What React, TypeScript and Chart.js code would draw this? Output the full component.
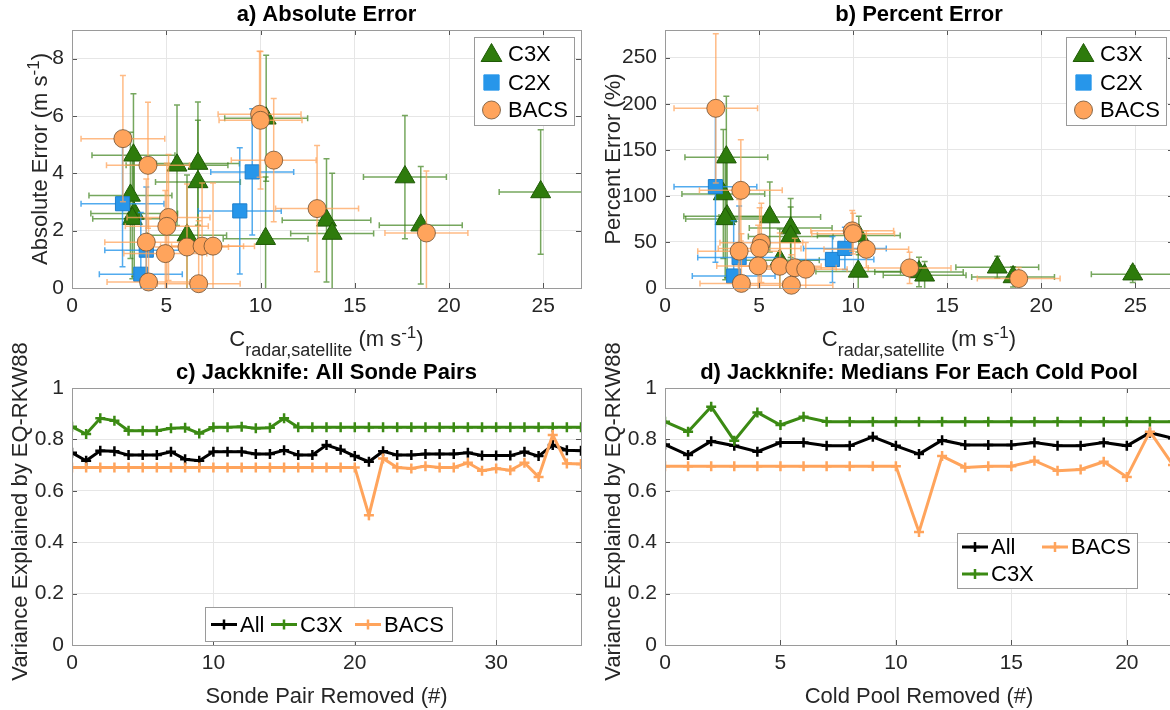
import React, { useEffect, useRef } from 'react';
import { Chart, registerables } from 'chart.js';

Chart.register(...registerables);

const FONT = "'Liberation Sans', Arial, Helvetica, sans-serif";
const TEXT = '#262626';
const GRID = '#e6e6e6';
const FRAME = '#9a9a9a';

const GREEN = '#2e7b0c';
const GREEN_EDGE = '#1f5a06';
const GREEN_LINE = '#3b8a13';
const BLUE = '#2796ea';
const ORANGE = '#ffa45c';

// ---------------- panels a & b : C3X ----------------
const c3xC = [3.26, 3.1, 3.3, 3.2, 5.57, 6.68, 6.68, 6.1, 10.27, 10.3, 13.5, 13.8, 17.66, 18.5, 24.86];
const c3xCUnc = [2.2, 2.2, 2.3, 2.1, 2.7, 2.2, 2.25, 2.1, 2.25, 2.2, 2.35, 2.2, 2.2, 2.2, 2.2];
const c3xAbs = [4.63, 3.23, 2.6, 2.42, 4.28, 4.34, 3.7, 1.84, 1.72, 5.92, 2.36, 1.9, 3.87, 2.19, 3.35];
const c3xAbsUnc = [2.15, 2.2, 2.2, 2.1, 2.1, 2.15, 2.15, 2.1, 2.15, 2.2, 2.15, 2.1, 2.15, 2.05, 2.17];
const c3xPct = [142, 102, 78, 75, 77, 65, 56, 30, 18, 57, 17.4, 13.8, 22.5, 12, 15];
const c3xPctUnc = [66, 70, 67, 66, 38, 32, 32, 34, 21, 21, 16, 15, 12, 11, 9];

// ---------------- panels a & b : C2X ----------------
const c2xC = [2.68, 3.65, 3.94, 8.9, 9.56];
const c2xCUnc = [2.2, 2.2, 2.2, 2.2, 2.2];
const c2xAbs = [2.94, 0.48, 1.32, 2.69, 4.05];
const c2xAbsUnc = [2.2, 2.15, 2.2, 2.2, 2.2];
const c2xPct = [110, 13, 33, 31, 43];
const c2xPctUnc = [82, 60, 56, 25, 23];

// ---------------- panels a & b : BACS ----------------
const bacsC = [2.7, 4.03, 3.94, 4.06, 5.12, 5.03, 4.95, 6.1, 6.9, 7.48, 6.72, 9.95, 10.0, 10.7, 13.0, 18.8];
const bacsCUnc = [2.22, 2.2, 2.2, 2.2, 2.2, 2.2, 2.2, 2.2, 2.2, 2.2, 2.2, 2.2, 2.2, 2.25, 2.2, 2.2];
const bacsAbs = [5.21, 4.28, 1.6, 0.21, 2.46, 2.15, 1.2, 1.43, 1.46, 1.46, 0.15, 6.06, 5.85, 4.46, 2.77, 1.92];
const bacsAbsUnc = [2.2, 2.2, 2.2, 2.2, 2.2, 2.2, 2.2, 2.2, 2.2, 2.2, 2.2, 2.2, 2.4, 2.15, 2.2, 2.16];
const bacsPct = [195, 106, 40, 5, 49, 43, 24, 23.6, 22, 20.4, 3, 62, 59, 42, 21.8, 10.2];
const bacsPctUnc = [81, 55, 56, 54, 43, 44, 44, 36, 32, 29, 33, 22, 22, 20, 17, 12];

// ---------------- panel c : jackknife, all sonde pairs ----------------
const sondePairRemoved = [0, 1, 2, 3, 4, 5, 6, 7, 8, 9, 10, 11, 12, 13, 14, 15, 16, 17, 18, 19, 20, 21, 22, 23, 24, 25, 26, 27, 28, 29, 30, 31, 32, 33, 34, 35, 36];
const pairsAll = [0.748, 0.717, 0.756, 0.754, 0.739, 0.739, 0.739, 0.752, 0.723, 0.717, 0.752, 0.752, 0.752, 0.743, 0.743, 0.758, 0.739, 0.739, 0.778, 0.76, 0.735, 0.713, 0.754, 0.739, 0.739, 0.743, 0.743, 0.743, 0.748, 0.737, 0.737, 0.737, 0.752, 0.735, 0.778, 0.758, 0.756];
const pairsC3X = [0.849, 0.821, 0.882, 0.873, 0.834, 0.834, 0.834, 0.843, 0.845, 0.823, 0.847, 0.847, 0.849, 0.843, 0.845, 0.882, 0.847, 0.847, 0.847, 0.847, 0.847, 0.847, 0.847, 0.847, 0.847, 0.847, 0.847, 0.847, 0.847, 0.847, 0.847, 0.847, 0.847, 0.847, 0.847, 0.847, 0.847];
const pairsBACS = [0.691, 0.691, 0.691, 0.691, 0.691, 0.691, 0.691, 0.691, 0.691, 0.691, 0.691, 0.691, 0.691, 0.691, 0.691, 0.691, 0.691, 0.691, 0.691, 0.691, 0.691, 0.505, 0.726, 0.691, 0.687, 0.696, 0.691, 0.691, 0.709, 0.678, 0.687, 0.68, 0.709, 0.654, 0.817, 0.706, 0.704];

// ---------------- panel d : jackknife, cold pool medians ----------------
const coldPoolRemoved = [0, 1, 2, 3, 4, 5, 6, 7, 8, 9, 10, 11, 12, 13, 14, 15, 16, 17, 18, 19, 20, 21, 22];
const poolsAll = [0.78, 0.739, 0.793, 0.775, 0.752, 0.788, 0.788, 0.775, 0.775, 0.81, 0.775, 0.743, 0.797, 0.778, 0.778, 0.778, 0.788, 0.775, 0.775, 0.788, 0.775, 0.826, 0.804];
const poolsC3X = [0.869, 0.83, 0.927, 0.795, 0.905, 0.856, 0.888, 0.869, 0.869, 0.869, 0.869, 0.869, 0.869, 0.869, 0.869, 0.869, 0.869, 0.869, 0.869, 0.869, 0.869, 0.869, 0.869];
const poolsBACS = [0.696, 0.696, 0.696, 0.696, 0.696, 0.696, 0.696, 0.696, 0.696, 0.696, 0.696, 0.44, 0.735, 0.691, 0.696, 0.696, 0.717, 0.678, 0.683, 0.713, 0.654, 0.83, 0.7];

// ---------------- helpers ----------------
type Part = { t: string; s: number; dy?: number; bold?: boolean };
type Area = { left: number; right: number; top: number; bottom: number };

function drawRich(ctx: CanvasRenderingContext2D, parts: Part[], cx: number, base: number, color = '#000') {
  ctx.textAlign = 'left';
  ctx.textBaseline = 'alphabetic';
  ctx.fillStyle = color;
  let total = 0;
  const widths = parts.map((p) => {
    ctx.font = `${p.bold ? 'bold ' : ''}${p.s}px ${FONT}`;
    const w = ctx.measureText(p.t).width;
    total += w;
    return w;
  });
  let x = cx - total / 2;
  parts.forEach((p, i) => {
    ctx.font = `${p.bold ? 'bold ' : ''}${p.s}px ${FONT}`;
    ctx.fillText(p.t, x, base + (p.dy || 0));
    x += widths[i];
  });
}

function drawMarker(ctx: CanvasRenderingContext2D, kind: string, x: number, y: number, r: number, fill: string, edge: string) {
  ctx.beginPath();
  if (kind === 'triangle') {
    for (let k = 0; k < 3; k++) {
      const ang = (k * 2 * Math.PI) / 3;
      const px = x + Math.sin(ang) * r;
      const py = y - Math.cos(ang) * r;
      if (k === 0) ctx.moveTo(px, py);
      else ctx.lineTo(px, py);
    }
    ctx.closePath();
  } else if (kind === 'rect') {
    const s = r * Math.SQRT1_2;
    ctx.rect(x - s, y - s, 2 * s, 2 * s);
  } else {
    ctx.arc(x, y, r, 0, Math.PI * 2);
  }
  ctx.fillStyle = fill;
  ctx.fill();
  ctx.strokeStyle = edge;
  ctx.lineWidth = 1;
  ctx.stroke();
}

function scatterLegend(ctx: CanvasRenderingContext2D, a: Area) {
  const w = 100, h = 88;
  const x0 = Math.round(a.right - 7 - w), y0 = Math.round(a.top + 7);
  ctx.fillStyle = '#fff';
  ctx.fillRect(x0, y0, w, h);
  ctx.strokeStyle = FRAME;
  ctx.lineWidth = 1;
  ctx.strokeRect(x0 + 0.5, y0 + 0.5, w, h);
  const mx = x0 + 17.5, tx = x0 + 34;
  const rows = [y0 + 16.5, y0 + 45.5, y0 + 73];
  drawMarker(ctx, 'triangle', mx, rows[0] + 2, 12, GREEN, GREEN_EDGE);
  drawMarker(ctx, 'rect', mx, rows[1], 10.8, BLUE, BLUE);
  drawMarker(ctx, 'circle', mx, rows[2], 9, ORANGE, 'rgba(110,80,50,0.8)');
  ctx.font = `22px ${FONT}`;
  ctx.fillStyle = '#000';
  ctx.textAlign = 'left';
  ctx.textBaseline = 'middle';
  ctx.fillText('C3X', tx, rows[0] + 1);
  ctx.fillText('C2X', tx, rows[1] + 1);
  ctx.fillText('BACS', tx, rows[2] + 1);
}

function lineItem(ctx: CanvasRenderingContext2D, x: number, y: number, color: string, label: string) {
  ctx.strokeStyle = color;
  ctx.lineWidth = 3;
  ctx.beginPath();
  ctx.moveTo(x, y);
  ctx.lineTo(x + 26, y);
  ctx.stroke();
  ctx.lineWidth = 2.5;
  ctx.beginPath();
  ctx.moveTo(x + 8, y);
  ctx.lineTo(x + 18, y);
  ctx.moveTo(x + 13, y - 5);
  ctx.lineTo(x + 13, y + 5);
  ctx.stroke();
  ctx.font = `22px ${FONT}`;
  ctx.fillStyle = '#000';
  ctx.textAlign = 'left';
  ctx.textBaseline = 'middle';
  ctx.fillText(label, x + 29, y + 1);
}

function legendBox(ctx: CanvasRenderingContext2D, x0: number, y0: number, w: number, h: number) {
  ctx.fillStyle = '#fff';
  ctx.fillRect(x0, y0, w, h);
  ctx.strokeStyle = FRAME;
  ctx.lineWidth = 1;
  ctx.strokeRect(x0 + 0.5, y0 + 0.5, w, h);
}

type ErrSpec = { xe: number[]; ye: number[]; color: string };
type Spec = {
  title: string;
  xLabel: Part[];
  yLabel: Part[];
  yLabelDx: number;
  yLabelDy: number;
  legend: (ctx: CanvasRenderingContext2D, a: Area, ox: number, oy: number) => void;
  errors?: (ErrSpec | null)[];
};

function makeDecor(spec: Spec, ox: number, oy: number) {
  return {
    id: 'decor',
    beforeDatasetDraw(chart: any, args: any) {
      const eb = spec.errors && spec.errors[args.index];
      if (!eb) return;
      const { ctx, chartArea: a } = chart;
      const xs = chart.scales.x, ys = chart.scales.y;
      const data = chart.data.datasets[args.index].data;
      ctx.save();
      ctx.beginPath();
      ctx.rect(a.left, a.top, a.right - a.left, a.bottom - a.top);
      ctx.clip();
      ctx.strokeStyle = eb.color;
      ctx.lineWidth = 1.5;
      const cap = 3;
      data.forEach((p: any, i: number) => {
        const x = xs.getPixelForValue(p.x), y = ys.getPixelForValue(p.y);
        const x0 = xs.getPixelForValue(p.x - eb.xe[i]), x1 = xs.getPixelForValue(p.x + eb.xe[i]);
        const y0 = ys.getPixelForValue(p.y - eb.ye[i]), y1 = ys.getPixelForValue(p.y + eb.ye[i]);
        ctx.beginPath();
        ctx.moveTo(x0, y); ctx.lineTo(x1, y);
        ctx.moveTo(x0, y - cap); ctx.lineTo(x0, y + cap);
        ctx.moveTo(x1, y - cap); ctx.lineTo(x1, y + cap);
        ctx.moveTo(x, y0); ctx.lineTo(x, y1);
        ctx.moveTo(x - cap, y0); ctx.lineTo(x + cap, y0);
        ctx.moveTo(x - cap, y1); ctx.lineTo(x + cap, y1);
        ctx.stroke();
      });
      ctx.restore();
    },
    afterDraw(chart: any) {
      const { ctx, chartArea: a } = chart;
      const xs = chart.scales.x, ys = chart.scales.y;
      ctx.save();
      // inner ticks
      ctx.strokeStyle = '#555';
      ctx.lineWidth = 1;
      ctx.beginPath();
      xs.ticks.forEach((t: any) => {
        const px = Math.round(xs.getPixelForValue(t.value)) + 0.5;
        if (px <= a.left + 1 || px >= a.right - 1) return;
        ctx.moveTo(px, a.bottom); ctx.lineTo(px, a.bottom - 5);
        ctx.moveTo(px, a.top); ctx.lineTo(px, a.top + 5);
      });
      ys.ticks.forEach((t: any) => {
        const py = Math.round(ys.getPixelForValue(t.value)) + 0.5;
        if (py <= a.top + 1 || py >= a.bottom - 1) return;
        ctx.moveTo(a.left, py); ctx.lineTo(a.left + 5, py);
        ctx.moveTo(a.right, py); ctx.lineTo(a.right - 5, py);
      });
      ctx.stroke();
      // frame
      ctx.strokeStyle = FRAME;
      ctx.strokeRect(Math.round(a.left) + 0.5, Math.round(a.top) + 0.5, Math.round(a.right - a.left), Math.round(a.bottom - a.top));
      // title
      const cx = (a.left + a.right) / 2;
      drawRich(ctx, [{ t: spec.title, s: 22, bold: true }], cx, a.top - 9.5, '#000');
      // x label
      drawRich(ctx, spec.xLabel, cx, a.bottom + 58, TEXT);
      // y label
      ctx.save();
      ctx.translate(a.left + spec.yLabelDx, (a.top + a.bottom) / 2 + spec.yLabelDy);
      ctx.rotate(-Math.PI / 2);
      drawRich(ctx, spec.yLabel, 0, 0, TEXT);
      ctx.restore();
      // legend
      spec.legend(ctx, a, ox, oy);
      ctx.restore();
    },
  };
}

function axis(min: number, max: number, step: number, isX: boolean) {
  return {
    type: 'linear',
    min,
    max,
    afterFit: (s: any) => {
      if (isX) s.height = 40;
      else s.width = 60;
    },
    ticks: {
      stepSize: step,
      includeBounds: false,
      autoSkip: false,
      maxRotation: 0,
      font: { family: FONT, size: 21 },
      color: TEXT,
      padding: isX ? 6 : 8,
      callback: (v: number) => String(Math.round(v * 100) / 100),
    },
    grid: { color: GRID, drawTicks: false, lineWidth: 1 },
    border: { display: false },
  };
}

type Box = { left: number; top: number; w: number; h: number; area: { l: number; r: number; t: number; b: number } };

const BOX_A: Box = { left: 0, top: 0, w: 595, h: 362, area: { l: 72, r: 581, t: 30, b: 288 } };
const BOX_B: Box = { left: 595, top: 0, w: 595, h: 362, area: { l: 665, r: 1173, t: 30, b: 288 } };
const BOX_C: Box = { left: 0, top: 318, w: 595, h: 392, area: { l: 72, r: 581, t: 388, b: 645 } };
const BOX_D: Box = { left: 595, top: 318, w: 595, h: 392, area: { l: 665, r: 1173, t: 388, b: 645 } };

function padding(b: Box) {
  return {
    left: b.area.l - b.left - 60,
    right: b.left + b.w - b.area.r,
    top: b.area.t - b.top,
    bottom: b.top + b.h - b.area.b - 40,
  };
}

const speedLabel: Part[] = [
  { t: 'C', s: 22 },
  { t: 'radar,satellite', s: 18, dy: 10 },
  { t: ' (m s', s: 22 },
  { t: '-1', s: 17, dy: -8 },
  { t: ')', s: 22 },
];

function pts(xs: number[], ys: number[]) {
  return xs.map((x, i) => ({ x, y: ys[i] }));
}

function scatterConfig(box: Box, which: 'abs' | 'pct') {
  const isAbs = which === 'abs';
  const spec: Spec = {
    title: isAbs ? 'a) Absolute Error' : 'b) Percent Error',
    xLabel: speedLabel,
    yLabel: isAbs
      ? [{ t: 'Absolute Error (m s', s: 22 }, { t: '-1', s: 17, dy: -8 }, { t: ')', s: 22 }]
      : [{ t: 'Percent Error (%)', s: 22 }],
    yLabelDx: isAbs ? -25 : -45,
    yLabelDy: 0,
    legend: (ctx, a) => scatterLegend(ctx, a),
    errors: [
      { xe: c3xCUnc, ye: isAbs ? c3xAbsUnc : c3xPctUnc, color: 'rgba(60,130,25,0.7)' },
      { xe: c2xCUnc, ye: isAbs ? c2xAbsUnc : c2xPctUnc, color: 'rgba(39,150,234,0.8)' },
      { xe: bacsCUnc, ye: isAbs ? bacsAbsUnc : bacsPctUnc, color: 'rgba(255,164,92,0.75)' },
    ],
  };
  return {
    type: 'scatter',
    data: {
      datasets: [
        {
          label: 'C3X',
          data: pts(c3xC, isAbs ? c3xAbs : c3xPct),
          pointStyle: 'triangle',
          pointRadius: 11.5,
          backgroundColor: GREEN,
          borderColor: GREEN_EDGE,
          borderWidth: 1,
          order: 3,
          clip: false,
        },
        {
          label: 'C2X',
          data: pts(c2xC, isAbs ? c2xAbs : c2xPct),
          pointStyle: 'rect',
          pointRadius: 10,
          backgroundColor: BLUE,
          borderColor: '#1f7fcc',
          borderWidth: 1,
          order: 2,
          clip: false,
        },
        {
          label: 'BACS',
          data: pts(bacsC, isAbs ? bacsAbs : bacsPct),
          pointStyle: 'circle',
          pointRadius: 9,
          backgroundColor: ORANGE,
          borderColor: 'rgba(110,80,50,0.8)',
          borderWidth: 1,
          order: 1,
          clip: false,
        },
      ],
    },
    options: {
      responsive: false,
      animation: false,
      devicePixelRatio: 1,
      events: [],
      layout: { padding: padding(box) },
      plugins: { legend: { display: false }, title: { display: false }, tooltip: { enabled: false } },
      scales: {
        x: axis(0, 27, 5, true),
        y: isAbs ? axis(0, 9, 2, false) : axis(0, 280, 50, false),
      },
    },
    plugins: [makeDecor(spec, box.left, box.top)],
  };
}

function lineDataset(label: string, xs: number[], ys: number[], color: string, order: number) {
  return {
    label,
    data: pts(xs, ys),
    borderColor: color,
    backgroundColor: color,
    borderWidth: 3,
    tension: 0,
    pointStyle: 'cross',
    pointRadius: 5,
    pointBorderWidth: 2.5,
    pointBorderColor: color,
    order,
  };
}

function jackConfig(box: Box, which: 'pairs' | 'pools') {
  const isPairs = which === 'pairs';
  const spec: Spec = {
    title: isPairs ? 'c) Jackknife: All Sonde Pairs' : 'd) Jackknife: Medians For Each Cold Pool',
    xLabel: [{ t: isPairs ? 'Sonde Pair Removed (#)' : 'Cold Pool Removed (#)', s: 22 }],
    yLabel: [{ t: 'Variance Explained by EQ-RKW88', s: 22 }],
    yLabelDx: -45,
    yLabelDy: -5,
    legend: (ctx, a, ox, oy) => {
      if (isPairs) {
        legendBox(ctx, 205 - ox, 607 - oy, 247, 34);
        const y = 624.5 - oy;
        lineItem(ctx, 211 - ox, y, '#000', 'All');
        lineItem(ctx, 271 - ox, y, GREEN_LINE, 'C3X');
        lineItem(ctx, 355 - ox, y, ORANGE, 'BACS');
      } else {
        legendBox(ctx, 957 - ox, 533 - oy, 180, 55);
        lineItem(ctx, 962 - ox, 547 - oy, '#000', 'All');
        lineItem(ctx, 1042 - ox, 547 - oy, ORANGE, 'BACS');
        lineItem(ctx, 962 - ox, 574 - oy, GREEN_LINE, 'C3X');
      }
    },
  };
  const xs = isPairs ? sondePairRemoved : coldPoolRemoved;
  return {
    type: 'line',
    data: {
      datasets: [
        lineDataset('All', xs, isPairs ? pairsAll : poolsAll, '#000', 3),
        lineDataset('C3X', xs, isPairs ? pairsC3X : poolsC3X, GREEN_LINE, 2),
        lineDataset('BACS', xs, isPairs ? pairsBACS : poolsBACS, ORANGE, 1),
      ],
    },
    options: {
      responsive: false,
      animation: false,
      devicePixelRatio: 1,
      events: [],
      layout: { padding: padding(box) },
      plugins: { legend: { display: false }, title: { display: false }, tooltip: { enabled: false } },
      scales: {
        x: isPairs ? axis(0, 36, 10, true) : axis(0, 22, 5, true),
        y: axis(0, 1, 0.2, false),
      },
    },
    plugins: [makeDecor(spec, box.left, box.top)],
  };
}

function Panel({ box, make }: { box: Box; make: () => any }) {
  const ref = useRef<HTMLCanvasElement>(null);
  useEffect(() => {
    const chart = new Chart(ref.current as HTMLCanvasElement, make());
    return () => chart.destroy();
  }, []);
  return (
    <canvas
      ref={ref}
      width={box.w}
      height={box.h}
      style={{ position: 'absolute', left: box.left, top: box.top, width: box.w, height: box.h, display: 'block' }}
    />
  );
}

export default function App() {
  return (
    <div
      style={{
        position: 'fixed',
        left: 0,
        top: 0,
        width: 1170,
        height: 710,
        overflow: 'hidden',
        background: '#fff',
      }}
    >
      <Panel box={BOX_A} make={() => scatterConfig(BOX_A, 'abs')} />
      <Panel box={BOX_B} make={() => scatterConfig(BOX_B, 'pct')} />
      <Panel box={BOX_C} make={() => jackConfig(BOX_C, 'pairs')} />
      <Panel box={BOX_D} make={() => jackConfig(BOX_D, 'pools')} />
    </div>
  );
}
